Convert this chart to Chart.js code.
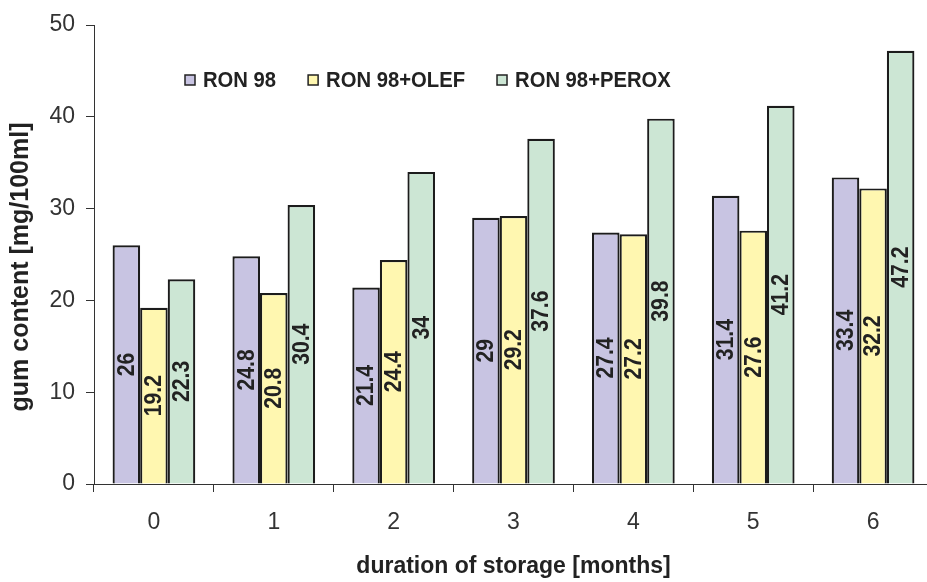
<!DOCTYPE html>
<html>
<head>
<meta charset="utf-8">
<script src="https://cdn.jsdelivr.net/npm/chart.js@4.4.0/dist/chart.umd.min.js"></script>
<style>
  html, body { margin: 0; padding: 0; background: #fff; overflow: hidden; }
</style>
</head>
<body>
<canvas id="gumChart" width="936" height="582"></canvas>
<script>
// values
const months = ["0", "1", "2", "3", "4", "5", "6"];
const ron98 = [26, 24.8, 21.4, 29, 27.4, 31.4, 33.4];
const ron98Olef = [19.2, 20.8, 24.4, 29.2, 27.2, 27.6, 32.2];
const ron98Perox = [22.3, 30.4, 34, 37.6, 39.8, 41.2, 47.2];
const yTicks = [0, 10, 20, 30, 40, 50];

const FONT = "'Liberation Sans', Arial, sans-serif";
const INK = "#222";
const SQUEEZE = 0.92;

// values written vertically in the middle of each bar
const barValues = {
    id: 'barValues',
    afterDatasetsDraw(chart) {
        const ctx = chart.ctx;
        ctx.save();
        ctx.font = "bold 23px " + FONT;
        ctx.fillStyle = INK;
        ctx.textAlign = 'center';
        ctx.textBaseline = 'middle';
        chart.data.datasets.forEach((ds, i) => {
            chart.getDatasetMeta(i).data.forEach((bar, j) => {
                ctx.save();
                ctx.translate(bar.x + 1, (bar.y + bar.base) / 2);
                ctx.rotate(-Math.PI / 2);
                ctx.scale(SQUEEZE, 1);
                ctx.fillText(String(ds.data[j]), 0, 0);
                ctx.restore();
            });
        });
        ctx.restore();
    }
};

// legend inside the plot area + y axis title (sits a bit below centre in the original)
const extras = {
    id: 'extras',
    afterDraw(chart) {
        const ctx = chart.ctx;
        ctx.save();
        ctx.font = "bold 22px " + FONT;
        ctx.textBaseline = 'middle';
        ctx.textAlign = 'left';
        let x = chart.chartArea.left + 91;
        const y = 80;
        chart.data.datasets.forEach(ds => {
            ctx.fillStyle = ds.backgroundColor;
            ctx.fillRect(x, y - 5, 10, 10);
            ctx.strokeStyle = INK;
            ctx.lineWidth = 1.5;
            ctx.strokeRect(x, y - 5, 10, 10);
            ctx.fillStyle = INK;
            ctx.save();
            ctx.translate(x + 18, y + 1);
            ctx.scale(SQUEEZE, 1);
            ctx.fillText(ds.label, 0, 0);
            ctx.restore();
            x += 18 + ctx.measureText(ds.label).width * SQUEEZE + 32;
        });

        ctx.font = "bold 25px " + FONT;
        ctx.textAlign = 'center';
        ctx.translate(21, 267);
        ctx.rotate(-Math.PI / 2);
        ctx.fillText("gum content [mg/100ml]", 0, 0);
        ctx.restore();
    }
};

var ctx = document.getElementById('gumChart').getContext('2d');
var gumChart = new Chart(ctx, {
    type: 'bar',
    data: {
        labels: months,
        datasets: [
            { label: "RON 98", data: ron98, backgroundColor: "#c8c4e2" },
            { label: "RON 98+OLEF", data: ron98Olef, backgroundColor: "#fff7b0" },
            { label: "RON 98+PEROX", data: ron98Perox, backgroundColor: "#cce6d4" }
        ].map(d => Object.assign(d, { borderColor: "#1c1c1c", borderWidth: 2.2 }))
    },
    options: {
        responsive: false,
        animation: false,
        layout: { padding: { left: 0, top: 25, right: 3, bottom: 0 } },
        datasets: { bar: { categoryPercentage: 0.69, barPercentage: 1 } },
        plugins: {
            legend: { display: false },
            tooltip: { enabled: false }
        },
        scales: {
            x: {
                grid: { offset: true, drawOnChartArea: false, tickLength: 8, color: "#333" },
                border: { color: "#333", width: 1 },
                ticks: { color: "#333", font: { family: FONT, size: 23 }, padding: 17 },
                title: {
                    display: true,
                    text: "duration of storage [months]",
                    color: INK,
                    font: { family: FONT, size: 23, weight: 'bold' },
                    padding: { top: 0, bottom: 2 }
                },
                afterFit(axis) { axis.height = 98; }
            },
            y: {
                min: 0,
                max: 50,
                afterBuildTicks(axis) { axis.ticks = yTicks.map(v => ({ value: v })); },
                grid: { drawOnChartArea: false, tickLength: 8, color: "#333" },
                border: { color: "#333", width: 1 },
                ticks: { color: "#333", font: { family: FONT, size: 23 }, padding: 11 },
                afterFit(axis) { axis.width = 94; }
            }
        }
    },
    plugins: [barValues, extras]
});
</script>
</body>
</html>
